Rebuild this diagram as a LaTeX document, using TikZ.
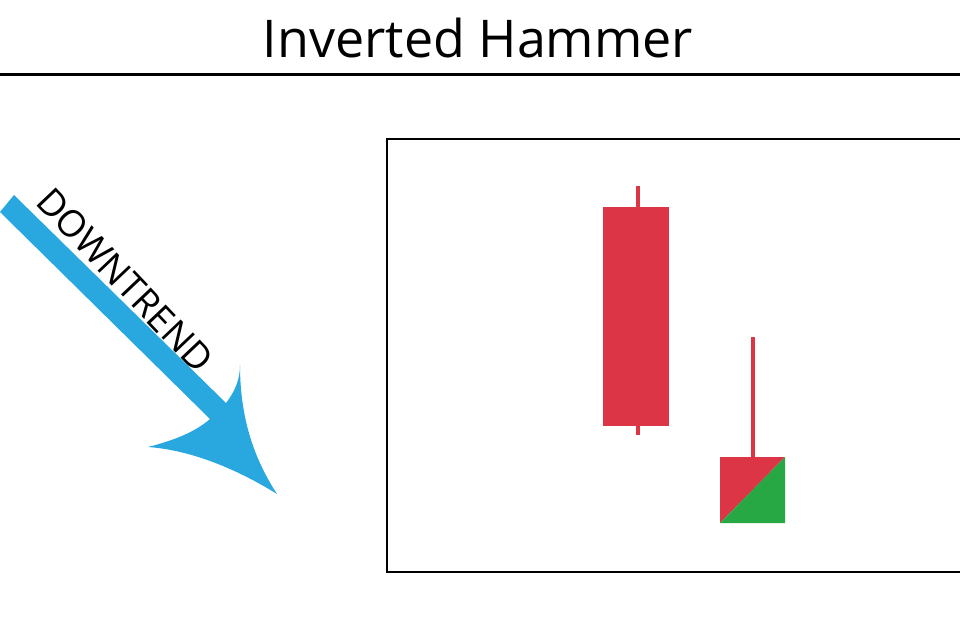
\documentclass[tikz,border=0pt]{standalone}
\usepackage{fontspec}
\setmainfont{Open Sans}
\definecolor{cred}{HTML}{DC3545}
\definecolor{cgreen}{HTML}{28A745}
\definecolor{cblue}{HTML}{29A8E0}
\begin{document}
\begin{tikzpicture}[x=1pt,y=-1pt]
\useasboundingbox (0,0) rectangle (960,632);
\node (title) at (478,38) {\fontsize{52}{58}\selectfont Inverted Hammer};
\draw[line width=3pt] (0,74) -- (960,74);
\draw[line width=1.5pt] (962,139) -- (387,139) -- (387,572) -- (962,572);
% candle 1
\fill[cred] (635.5,186) rectangle (639.5,435);
\fill[cred] (603,207) rectangle (669,426);
% candle 2
\fill[cred] (751,337) rectangle (755,457);
\fill[cred] (720,457) -- (785,457) -- (720,523) -- cycle;
\fill[cgreen] (785,457) -- (785,523) -- (720,523) -- cycle;
% arrow
\fill[cblue] (14,195) -- (226,403) .. controls (236,390) and (240,378) .. (240,365)
  .. controls (240,420) and (255,460) .. (277,494)
  .. controls (235,468) and (190,450) .. (148,447)
  .. controls (175,440) and (195,432) .. (210,419) -- (0,212) -- cycle;
\node[rotate=-46.5] (dt) at (125,280) {\fontsize{37}{40}\selectfont DOWNTREND};
\end{tikzpicture}
\end{document}
